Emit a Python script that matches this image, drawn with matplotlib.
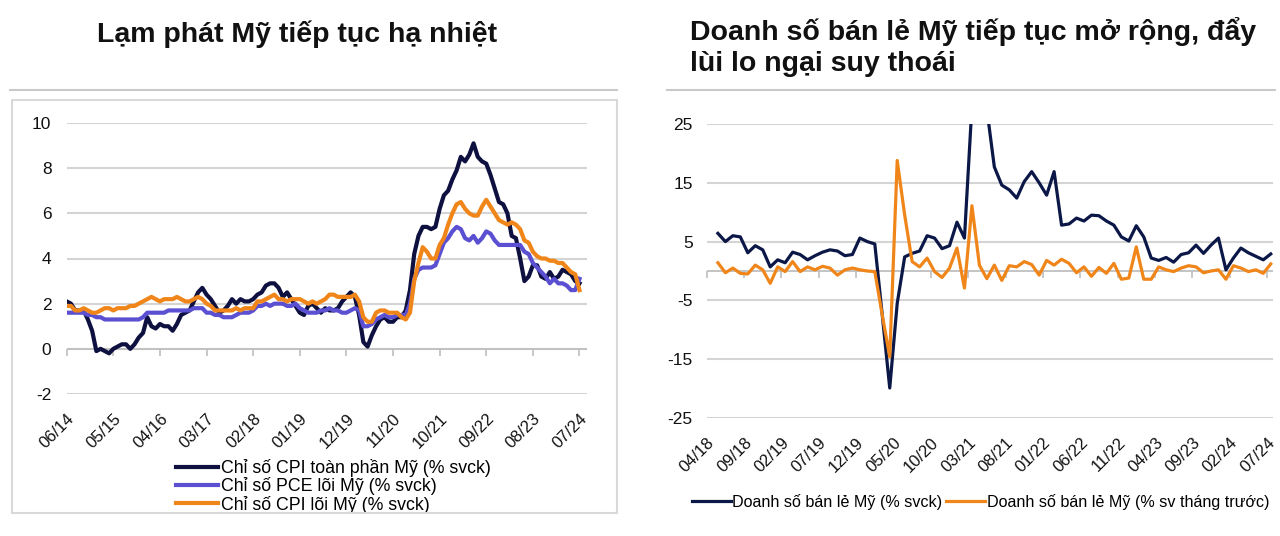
import numpy as np
import matplotlib
matplotlib.use('Agg')
import matplotlib.pyplot as plt
from matplotlib.patches import Rectangle
from matplotlib.lines import Line2D

plt.rcParams['font.family'] = ['Liberation Sans', 'DejaVu Sans']
plt.rcParams['axes.unicode_minus'] = False

# ---------------- data: left chart (monthly, 06/2014 - 07/2024, % yoy) ----------------
infl_ticklabels = ['06/14', '05/15', '04/16', '03/17', '02/18', '01/19',
                   '12/19', '11/20', '10/21', '09/22', '08/23', '07/24']

cpi_headline = [2.1, 2.0, 1.7, 1.7, 1.7, 1.3, 0.8,
                -0.1, 0.0, -0.1, -0.2, 0.0, 0.1, 0.2, 0.2, 0.0, 0.2, 0.5, 0.7,
                1.4, 1.0, 0.9, 1.1, 1.0, 1.0, 0.8, 1.1, 1.5, 1.6, 1.7, 2.1,
                2.5, 2.7, 2.4, 2.2, 1.9, 1.6, 1.7, 1.9, 2.2, 2.0, 2.2, 2.1,
                2.1, 2.2, 2.4, 2.5, 2.8, 2.9, 2.9, 2.7, 2.3, 2.5, 2.2, 1.9,
                1.6, 1.5, 1.9, 2.0, 1.8, 1.6, 1.8, 1.7, 1.7, 1.8, 2.1, 2.3,
                2.5, 2.3, 1.5, 0.3, 0.1, 0.6, 1.0, 1.3, 1.4, 1.2, 1.2, 1.4,
                1.4, 1.7, 2.6, 4.2, 5.0, 5.4, 5.4, 5.3, 5.4, 6.2, 6.8, 7.0,
                7.5, 7.9, 8.5, 8.3, 8.6, 9.1, 8.5, 8.3, 8.2, 7.7, 7.1, 6.5,
                6.4, 6.0, 5.0, 4.9, 4.0, 3.0, 3.2, 3.7, 3.7, 3.2, 3.1, 3.4,
                3.1, 3.2, 3.5, 3.4, 3.3, 3.0, 2.9]

pce_core = [1.6, 1.6, 1.6, 1.6, 1.6, 1.5, 1.5,
            1.4, 1.4, 1.3, 1.3, 1.3, 1.3, 1.3, 1.3, 1.3, 1.3, 1.3, 1.4,
            1.6, 1.6, 1.6, 1.6, 1.6, 1.7, 1.7, 1.7, 1.7, 1.7, 1.7, 1.8,
            1.8, 1.8, 1.6, 1.6, 1.5, 1.5, 1.4, 1.4, 1.4, 1.5, 1.6, 1.6,
            1.6, 1.7, 1.9, 1.9, 2.0, 1.9, 2.0, 2.0, 2.0, 1.9, 1.9, 2.0,
            1.8, 1.7, 1.6, 1.6, 1.6, 1.7, 1.7, 1.8, 1.7, 1.7, 1.6, 1.6,
            1.7, 1.8, 1.7, 1.0, 1.0, 1.1, 1.3, 1.4, 1.5, 1.4, 1.4, 1.5,
            1.5, 1.5, 2.0, 3.1, 3.5, 3.6, 3.6, 3.6, 3.7, 4.2, 4.7, 4.9,
            5.2, 5.4, 5.3, 4.9, 4.8, 5.0, 4.7, 4.9, 5.2, 5.1, 4.8, 4.6,
            4.6, 4.6, 4.6, 4.6, 4.6, 4.3, 4.2, 3.8, 3.6, 3.4, 3.2, 2.9,
            3.1, 2.9, 2.9, 2.8, 2.6, 2.6, 3.1]

cpi_core = [1.9, 1.9, 1.7, 1.7, 1.8, 1.7, 1.6,
            1.6, 1.7, 1.8, 1.8, 1.7, 1.8, 1.8, 1.8, 1.9, 1.9, 2.0, 2.1,
            2.2, 2.3, 2.2, 2.1, 2.2, 2.2, 2.2, 2.3, 2.2, 2.1, 2.1, 2.2,
            2.3, 2.2, 2.0, 1.9, 1.7, 1.7, 1.7, 1.7, 1.7, 1.8, 1.7, 1.8,
            1.8, 1.8, 2.1, 2.1, 2.2, 2.3, 2.4, 2.2, 2.2, 2.1, 2.2, 2.2,
            2.2, 2.1, 2.0, 2.1, 2.0, 2.1, 2.2, 2.4, 2.4, 2.3, 2.3, 2.3,
            2.3, 2.4, 2.1, 1.4, 1.2, 1.2, 1.6, 1.7, 1.7, 1.6, 1.6, 1.6,
            1.4, 1.3, 1.6, 3.0, 3.8, 4.5, 4.3, 4.0, 4.0, 4.6, 4.9, 5.5,
            6.0, 6.4, 6.5, 6.2, 6.0, 5.9, 5.9, 6.3, 6.6, 6.3, 6.0, 5.7,
            5.6, 5.5, 5.6, 5.5, 5.3, 4.8, 4.7, 4.3, 4.1, 4.0, 4.0, 3.9,
            3.9, 3.8, 3.8, 3.6, 3.4, 3.3, 2.6]

# ---------------- data: right chart (monthly, 05/2018 - 07/2024) ----------------
retail_ticklabels = ['04/18', '09/18', '02/19', '07/19', '12/19', '05/20', '10/20', '03/21',
                     '08/21', '01/22', '06/22', '11/22', '04/23', '09/23', '02/24', '07/24']

retail_yoy = [6.4, 5.0, 6.0, 5.8, 3.1, 4.3, 3.6, 0.7, 1.9, 1.4, 3.2, 2.8, 1.9, 2.6, 3.2,
              3.6, 3.4, 2.6, 2.8, 5.6, 5.0, 4.6,
              -7.5, -19.9, -5.5, 2.4, 3.0, 3.4, 6.0, 5.6, 3.8, 4.3, 8.3, 5.6, 28.0, 51.0, 27.5,
              17.7, 14.6, 13.8, 12.4, 15.2, 16.9, 15.0, 12.9, 16.9, 7.8, 8.0, 9.0, 8.5, 9.5,
              9.4, 8.5, 7.8, 5.8, 5.1, 7.7, 5.8, 2.2, 1.8, 2.3, 1.5, 2.8, 3.1, 4.4, 3.0,
              4.4, 5.6, 0.2, 2.2, 3.9, 3.1, 2.5, 1.9, 2.9]

retail_mom = [1.4, -0.3, 0.5, -0.4, -0.5, 1.0, 0.2, -2.1, 0.7, -0.1, 1.6, -0.1, 0.7, 0.2, 0.8,
              0.5, -0.7, 0.2, 0.5, 0.2, 0.0, -0.1,
              -7.5, -14.6, 18.8, 9.5, 1.6, 0.7, 2.2, -0.1, -1.1, 0.5, 3.9, -2.9, 11.1, 1.0, -1.3, 1.0,
              -1.6, 0.9, 0.7, 1.6, 1.1, -0.7, 1.8, 1.0, 2.0, 1.3, -0.3, 0.7, -0.9, 0.6, -0.4,
              1.3, -1.4, -1.2, 4.1, -1.4, -1.4, 0.7, 0.2, -0.1, 0.5, 0.9, 0.7, -0.3, 0.0,
              0.2, -1.4, 0.9, 0.5, -0.1, 0.2, -0.4, 1.2]

NAVY = '#0e1040'
NAVY2 = '#0b1747'
PURPLE = '#5b50d2'
ORANGE = '#f0861a'
GRID = '#d4d4d4'
AXIS = '#bfbfbf'
TXT = '#111111'

W, H = 1280.0, 536.0


def fx(px):
    return px / W


def fy(py):
    return 1 - py / H


def zero_axis(ax, ticks):
    # excel style category axis sitting on y=0 with small ticks below
    ax.axhline(0, color=AXIS, lw=1.3, zorder=1)
    ax.plot(ticks, np.zeros(len(ticks)), ls='none', marker=3, ms=5, mew=1.2,
            color=AXIS, clip_on=False, zorder=1)


fig = plt.figure(figsize=(12.8, 5.36), dpi=100)

# decorations: header rules and the frame round the left chart
fig.add_artist(Line2D([fx(10), fx(617)], [fy(90), fy(90)], transform=fig.transFigure,
                      color='#c9c9c9', lw=1.5))
fig.add_artist(Line2D([fx(667), fx(1275)], [fy(90), fy(90)], transform=fig.transFigure,
                      color='#c9c9c9', lw=1.5))
fig.add_artist(Rectangle((fx(12), fy(512.5)), fx(616.5) - fx(12), fy(100) - fy(512.5),
                         transform=fig.transFigure, fill=False, ec='#d9d9d9', lw=1.5))

fig.text(fx(297), fy(34), 'Lạm phát Mỹ tiếp tục hạ nhiệt', ha='center', va='center',
         fontsize=20.5, fontweight='bold', color=TXT)
fig.text(fx(690), fy(47), 'Doanh số bán lẻ Mỹ tiếp tục mở rộng, đẩy\nlùi lo ngại suy thoái',
         ha='left', va='center', fontsize=20.5, fontweight='bold', color=TXT, linespacing=1.24)

# ---------------- left chart ----------------
ax1 = fig.add_axes([fx(66.7), fy(394), fx(586.7) - fx(66.7), fy(123) - fy(394)])
x1 = np.arange(len(cpi_headline))
ax1.plot(x1, cpi_headline, color=NAVY, lw=3, label='Chỉ số CPI toàn phần Mỹ (% svck)')
ax1.plot(x1, pce_core, color=PURPLE, lw=3, label='Chỉ số PCE lõi Mỹ (% svck)')
ax1.plot(x1, cpi_core, color=ORANGE, lw=3, label='Chỉ số CPI lõi Mỹ (% svck)')

ax1.set_ylim(-2, 10)
ax1.set_xlim(0, 122.7)
ax1.set_yticks(np.arange(-2, 11, 2))
ax1.grid(axis='y', color=GRID, lw=1.5)
ax1.set_axisbelow(True)
for s in ax1.spines.values():
    s.set_visible(False)
t1 = x1[::11]
ax1.set_xticks(t1)
ax1.set_xticklabels(infl_ticklabels, rotation=45, ha='right', va='top', rotation_mode='anchor')
ax1.tick_params(axis='x', length=0, pad=12, labelsize=12, labelcolor=TXT)
ax1.tick_params(axis='y', length=0, pad=11, labelsize=12.5, labelcolor=TXT)
zero_axis(ax1, t1)

ax1.legend(loc='upper left', bbox_to_anchor=(fx(176), fy(459)), bbox_transform=fig.transFigure,
           frameon=False, fontsize=12.8, handlelength=2.35, handletextpad=0.2,
           labelspacing=0.02, borderpad=0, borderaxespad=0)

# ---------------- right chart ----------------
ax2 = fig.add_axes([fx(706.7), fy(418), fx(1273) - fx(706.7), fy(124) - fy(418)])
# months counted from 04/18, data starts 05/18, excel puts points between tick marks
x2 = np.arange(1, len(retail_yoy) + 1) + 0.5
ax2.plot(x2, retail_yoy, color=NAVY2, lw=2.3, label='Doanh số bán lẻ Mỹ (% svck)')
ax2.plot(x2, retail_mom, color=ORANGE, lw=2.3, label='Doanh số bán lẻ Mỹ (% sv tháng trước)')

ax2.set_ylim(-25, 25)
ax2.set_xlim(0, 75.8)
ax2.set_yticks(np.arange(-25, 26, 10))
ax2.grid(axis='y', color=GRID, lw=1.5)
ax2.set_axisbelow(True)
for s in ax2.spines.values():
    s.set_visible(False)
t2 = np.arange(0, 76, 5)
ax2.set_xticks(t2)
ax2.set_xticklabels(retail_ticklabels, rotation=45, ha='right', va='top', rotation_mode='anchor')
ax2.tick_params(axis='x', length=0, pad=12, labelsize=12, labelcolor=TXT)
ax2.tick_params(axis='y', length=0, pad=10, labelsize=12.5, labelcolor=TXT)
zero_axis(ax2, t2)

ax2.legend(loc='upper left', bbox_to_anchor=(fx(692), fy(494)), bbox_transform=fig.transFigure,
           ncol=2, frameon=False, fontsize=11.6, handlelength=2.4, handletextpad=0.1,
           columnspacing=0.25, borderpad=0, borderaxespad=0)

fig.savefig('out.png', dpi=100)
